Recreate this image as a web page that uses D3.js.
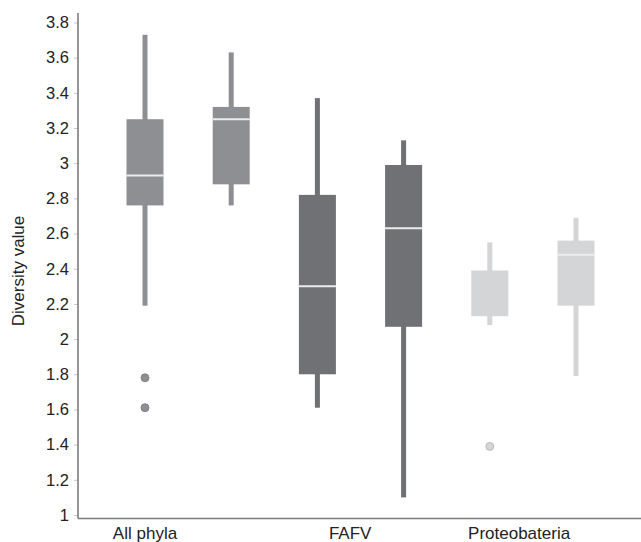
<!DOCTYPE html>
<html>
<head>
<meta charset="utf-8">
<script src="https://cdn.jsdelivr.net/npm/d3@7"></script>
<style>
  body { margin: 0; background: #fff; }
  text { font-family: 'Liberation Sans', Arial, sans-serif; }
</style>
</head>
<body>
<div id="grafica"></div>
<script>
// datos
boxIds   = ['ap1', 'ap2', 'fa1', 'fa2', 'pr1', 'pr2']
groupOf  = ['All phyla', 'All phyla', 'FAFV', 'FAFV', 'Proteobateria', 'Proteobateria']
whiskLow = [2.19, 2.76, 1.61, 1.10, 2.08, 1.79]
q1s      = [2.76, 2.88, 1.80, 2.07, 2.13, 2.19]
medians  = [2.93, 3.25, 2.30, 2.63, null, 2.48]
q3s      = [3.25, 3.32, 2.82, 2.99, 2.39, 2.56]
whiskTop = [3.73, 3.63, 3.37, 3.13, 2.55, 2.69]
outliers = [[1.78, 1.61], [], [], [], [1.39], []]

groups      = ['All phyla', 'FAFV', 'Proteobateria']
groupColor  = ['#8e8f93', '#707175', '#d4d5d7']
labelPos    = [0, 2.38, 4.34]   // posicion de las etiquetas en unidades de caja
yTicks      = [1, 1.2, 1.4, 1.6, 1.8, 2, 2.2, 2.4, 2.6, 2.8, 3, 3.2, 3.4, 3.6, 3.8]

ancho_total = 641
alto_total  = 542

svg = d3.select('#grafica')
        .append('svg')
        .attr('width', ancho_total)
        .attr('height', alto_total)

y = d3.scaleLinear()
      .domain([1, 3.8])
      .range([515, 22.5])

x = d3.scaleLinear()
      .domain([0, 5])
      .range([145, 576])

color = d3.scaleOrdinal()
          .domain(groups)
          .range(groupColor)

boxW = 37

data = boxIds.map((id, i) => ({
  id: id, i: i, group: groupOf[i],
  lo: whiskLow[i], q1: q1s[i], med: medians[i], q3: q3s[i], hi: whiskTop[i],
  out: outliers[i]
}))

// eje Y
yAxisCall = d3.axisLeft(y)
              .tickValues(yTicks)
              .tickFormat(d3.format('~g'))
              .tickSize(4)
              .tickPadding(5)
yGroup = svg.append('g')
            .attr('transform', 'translate(78,0)')
            .call(yAxisCall)
yGroup.select('.domain').remove()
yGroup.selectAll('.tick line').attr('stroke', '#c8c8c8')
yGroup.selectAll('.tick text')
      .attr('font-size', '16.5px')
      .attr('fill', '#222')

// lineas de los ejes
svg.append('line')
   .attr('x1', 78).attr('x2', 78)
   .attr('y1', 13).attr('y2', 518.5)
   .attr('stroke', '#7d7d7d').attr('stroke-width', 1.6)
svg.append('line')
   .attr('x1', 78).attr('x2', 641)
   .attr('y1', 518.5).attr('y2', 518.5)
   .attr('stroke', '#7d7d7d').attr('stroke-width', 1.6)

// titulo eje Y
svg.append('text')
   .attr('transform', 'translate(24,271) rotate(-90)')
   .attr('text-anchor', 'middle')
   .attr('font-size', '17px')
   .attr('fill', '#222')
   .text('Diversity value')

// etiquetas de categorias
svg.selectAll('.cat')
   .data(groups)
   .enter()
   .append('text')
   .attr('class', 'cat')
   .attr('x', (d, i) => x(labelPos[i]))
   .attr('y', 539)
   .attr('text-anchor', 'middle')
   .attr('font-size', '17px')
   .attr('fill', '#222')
   .text((d) => d)

cajas = svg.selectAll('.box')
           .data(data)
           .enter()
           .append('g')
           .attr('class', 'box')

// bigotes
cajas.append('rect')
     .attr('x', (d) => x(d.i) - 2.5)
     .attr('width', 5)
     .attr('y', (d) => y(d.hi))
     .attr('height', (d) => y(d.lo) - y(d.hi))
     .attr('fill', (d) => color(d.group))

// caja
cajas.append('rect')
     .attr('x', (d) => x(d.i) - boxW / 2)
     .attr('width', boxW)
     .attr('y', (d) => y(d.q3))
     .attr('height', (d) => y(d.q1) - y(d.q3))
     .attr('fill', (d) => color(d.group))

// mediana
cajas.filter((d) => d.med != null)
     .append('line')
     .attr('x1', (d) => x(d.i) - boxW / 2)
     .attr('x2', (d) => x(d.i) + boxW / 2)
     .attr('y1', (d) => y(d.med))
     .attr('y2', (d) => y(d.med))
     .attr('stroke', '#ececec')
     .attr('stroke-width', 2)

// valores atipicos
cajas.selectAll('circle')
     .data((d) => d.out.map((v) => ({ v: v, i: d.i, group: d.group })))
     .enter()
     .append('circle')
     .attr('cx', (d) => x(d.i))
     .attr('cy', (d) => y(d.v))
     .attr('r', 4)
     .attr('fill', (d) => color(d.group))
     .attr('stroke', (d) => d3.color(color(d.group)).darker(0.5))
     .attr('stroke-width', 0.8)
</script>
</body>
</html>
